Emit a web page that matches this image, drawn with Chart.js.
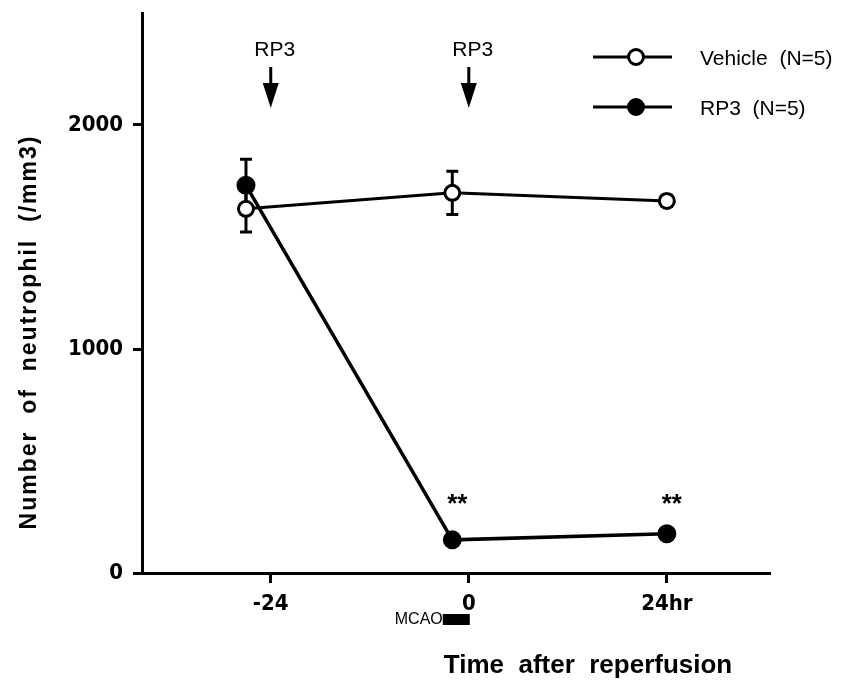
<!DOCTYPE html>
<html>
<head>
<meta charset="utf-8">
<script src="https://cdn.jsdelivr.net/npm/chart.js@4.4.1/dist/chart.umd.min.js"></script>
<style>
  html, body { margin: 0; padding: 0; background: #fff; }
  #wrap { width: 843px; height: 686px; }
</style>
</head>
<body>
<div id="wrap"><canvas id="neutrophilChart" width="843" height="686"></canvas></div>
<script>
// 채혈 시점 (재관류 후 시간, hr)
const sampleHours = [-27, -2, 24];

// 호중구 수 평균 / SEM
const vehicleMean = [1626, 1697, 1661];
const vehicleSem = [104, 96, 25];
const rp3Mean = [1731, 148, 175];
const rp3Sem = [116, 20, 20];

// 축 눈금
const xTicks = [-24, 0, 24];
const xTickLabels = ["-24", "0", "24hr"];
const yTicks = [0, 1000, 2000];

// RP3 투여 시점과 ** 표시할 지점
const injectionHours = [-24, 0];
const starredIdx = [1, 2];

const narrowBold = "'Liberation Sans Narrow', 'DejaVu Sans Condensed', 'Liberation Sans', Arial, sans-serif";
const plainFont = "'Liberation Sans', Arial, Helvetica, sans-serif";

// 에러바, 화살표, 범례, 축 제목 그리기
const figureExtras = {
  id: "figureExtras",
  beforeDatasetsDraw(chart) {
    const ctx = chart.ctx;
    const xs = chart.scales.x;
    const ys = chart.scales.y;
    ctx.save();
    ctx.strokeStyle = "#000";
    ctx.lineWidth = 3;
    [[vehicleMean, vehicleSem], [rp3Mean, rp3Sem]].forEach(([means, sems]) => {
      means.forEach((m, i) => {
        const px = xs.getPixelForValue(sampleHours[i]);
        const top = ys.getPixelForValue(m + sems[i]);
        const bot = ys.getPixelForValue(m - sems[i]);
        ctx.beginPath();
        ctx.moveTo(px, top);
        ctx.lineTo(px, bot);
        ctx.moveTo(px - 6, top);
        ctx.lineTo(px + 6, top);
        ctx.moveTo(px - 6, bot);
        ctx.lineTo(px + 6, bot);
        ctx.stroke();
      });
    });
    ctx.restore();
  },
  afterDraw(chart) {
    const ctx = chart.ctx;
    const xs = chart.scales.x;
    ctx.save();
    ctx.fillStyle = "#000";
    ctx.strokeStyle = "#000";

    // RP3 투여 화살표
    injectionHours.forEach((h) => {
      const px = xs.getPixelForValue(h);
      ctx.font = "21px " + plainFont;
      ctx.textAlign = "center";
      ctx.textBaseline = "middle";
      ctx.fillText("RP3", px + 4, 50);
      ctx.lineWidth = 3;
      ctx.beginPath();
      ctx.moveTo(px, 67);
      ctx.lineTo(px, 86);
      ctx.stroke();
      ctx.beginPath();
      ctx.moveTo(px - 8, 83);
      ctx.lineTo(px + 8, 83);
      ctx.lineTo(px, 108);
      ctx.closePath();
      ctx.fill();
    });

    // 유의성 표시 **
    ctx.font = "bold 26px " + plainFont;
    ctx.textAlign = "center";
    ctx.textBaseline = "alphabetic";
    starredIdx.forEach((i) => {
      ctx.fillText("**", xs.getPixelForValue(sampleHours[i]) + 5, 512);
    });

    // MCAO 구간
    const zeroPx = xs.getPixelForValue(0);
    ctx.fillRect(zeroPx - 26, 614, 27, 11);
    ctx.font = "16px " + plainFont;
    ctx.textAlign = "right";
    ctx.textBaseline = "middle";
    ctx.fillText("MCAO", zeroPx - 26, 620);

    // 범례
    const legendRows = [
      { label: "Vehicle  (N=5)", fill: "#fff", y: 57 },
      { label: "RP3  (N=5)", fill: "#000", y: 107 },
    ];
    legendRows.forEach((row) => {
      ctx.lineWidth = 3;
      ctx.beginPath();
      ctx.moveTo(593, row.y);
      ctx.lineTo(672, row.y);
      ctx.stroke();
      ctx.beginPath();
      ctx.arc(636, row.y, 7.5, 0, Math.PI * 2);
      ctx.fillStyle = row.fill;
      ctx.fill();
      ctx.stroke();
      ctx.fillStyle = "#000";
      ctx.font = "21px " + plainFont;
      ctx.textAlign = "left";
      ctx.textBaseline = "middle";
      ctx.fillText(row.label, 700, row.y + 2);
    });

    // 축 제목
    ctx.textAlign = "center";
    ctx.textBaseline = "middle";
    ctx.save();
    ctx.font = "bold 23px " + plainFont;
    ctx.translate(30, 332);
    ctx.rotate(-Math.PI / 2);
    ctx.letterSpacing = "2px";
    ctx.fillText("Number  of  neutrophil  (/mm3)", 0, 0);
    ctx.restore();

    ctx.font = "bold 26px " + plainFont;
    ctx.fillText("Time  after  reperfusion", 588, 666);
    ctx.restore();
  },
};

const neutrophilChart = new Chart(document.getElementById("neutrophilChart").getContext("2d"), {
  type: "line",
  data: {
    datasets: [
      {
        label: "Vehicle (N=5)",
        data: sampleHours.map((h, i) => ({ x: h, y: vehicleMean[i] })),
        borderColor: "#000",
        borderWidth: 3,
        backgroundColor: "#fff",
        pointRadius: 7.5,
        pointBorderWidth: 3,
        pointBackgroundColor: "#fff",
        pointBorderColor: "#000",
        tension: 0,
      },
      {
        label: "RP3 (N=5)",
        data: sampleHours.map((h, i) => ({ x: h, y: rp3Mean[i] })),
        borderColor: "#000",
        borderWidth: 3.5,
        backgroundColor: "#000",
        pointRadius: 8.5,
        pointBorderWidth: 2,
        pointBackgroundColor: "#000",
        pointBorderColor: "#000",
        tension: 0,
      },
    ],
  },
  options: {
    responsive: false,
    animation: false,
    layout: { padding: { top: 13, right: 73, left: 0, bottom: 0 } },
    plugins: {
      legend: { display: false },
      tooltip: { enabled: false },
    },
    scales: {
      x: {
        type: "linear",
        min: -39.6,
        max: 36.5,
        afterBuildTicks: (scale) => {
          scale.ticks = xTicks.map((v) => ({ value: v }));
        },
        afterFit: (scale) => {
          scale.height = 113;
          scale.paddingLeft = 0;
          scale.paddingRight = 0;
        },
        ticks: {
          autoSkip: false,
          maxRotation: 0,
          padding: 8,
          color: "#000",
          font: { family: narrowBold, size: 22, weight: "bold" },
          callback: (value, index) => xTickLabels[index],
        },
        grid: { drawOnChartArea: false, tickLength: 10, tickWidth: 3, tickColor: "#000" },
        border: { color: "#000", width: 3 },
      },
      y: {
        min: 0,
        max: 2500,
        afterBuildTicks: (scale) => {
          scale.ticks = yTicks.map((v) => ({ value: v }));
        },
        afterFit: (scale) => {
          scale.width = 142;
          scale.paddingTop = 0;
          scale.paddingBottom = 0;
        },
        ticks: {
          padding: 10,
          color: "#000",
          font: { family: narrowBold, size: 22, weight: "bold" },
          callback: (value) => String(value),
        },
        grid: { drawOnChartArea: false, tickLength: 9, tickWidth: 3, tickColor: "#000" },
        border: { color: "#000", width: 3 },
      },
    },
  },
  plugins: [figureExtras],
});
</script>
</body>
</html>
